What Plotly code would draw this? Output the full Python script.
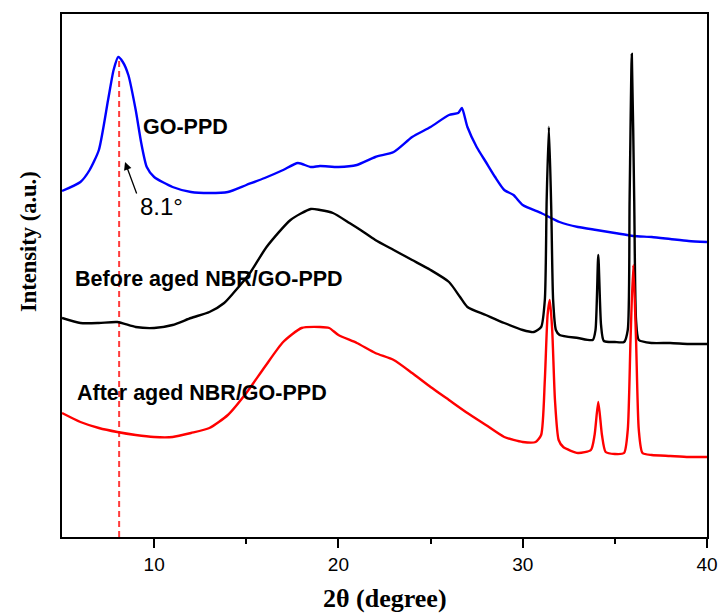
import plotly.graph_objects as go

# GO-PPD
go_x = [5, 6, 6.5, 7, 7.5, 7.8, 8.05, 8.3, 8.6, 9, 9.3, 9.6, 10, 11, 12, 13, 14, 15, 16, 17, 17.8,
        18.5, 19, 20, 21, 22, 23, 24, 25, 26, 26.5, 26.7, 27, 27.5, 28, 28.5, 29, 29.5, 30, 31, 32,
        33, 34, 35, 36, 37, 38, 39, 40]
go_y = [346, 355, 367, 387, 437, 467, 480, 475, 462, 427, 394, 370, 360, 350, 345, 344, 345, 352,
        359, 367, 374, 370, 371, 370, 372, 380, 385, 400, 410, 422, 424, 429, 410, 390, 375, 360,
        347, 342, 332, 324, 315, 310, 307, 304, 301, 300, 298, 296, 295]

# Before aged NBR/GO-PPD
before_x = [5, 6, 7, 8, 9, 10, 11, 12, 13, 13.8, 14.3, 15.2, 16.1, 17.4, 18.5, 19, 19.7, 20.6, 21.2,
            22, 23, 24, 25, 26, 26.6, 27, 28, 29, 30, 30.6, 31.0, 31.2, 31.3, 31.42, 31.55, 31.65,
            31.8, 32, 33, 33.8, 33.95, 34.1, 34.25, 34.4, 35, 35.5, 35.7, 35.8, 35.92, 36.05, 36.15,
            36.3, 37, 38, 39, 40]
before_y = [219, 214, 214, 215, 210, 209, 212, 219, 225, 234, 244, 264, 290, 317, 328, 327, 324, 314,
            307, 297, 287, 277, 267, 255, 240, 230, 222, 214, 207, 205, 210, 237, 337, 410, 327, 237,
            207, 202, 199, 197, 207, 282, 212, 196, 195, 195, 207, 337, 483, 337, 217, 197, 194, 194,
            193, 193]

# After aged NBR/GO-PPD
after_x = [5, 6, 7, 8, 9, 10, 11, 12, 13, 14, 15, 16, 17, 18, 19, 19.5, 20, 21, 22, 23, 24, 25, 26,
           27, 28, 29, 30, 30.7, 31.0, 31.2, 31.35, 31.47, 31.6, 31.75, 31.95, 32.2, 33, 33.7, 33.9,
           34.1, 34.3, 34.5, 35, 35.5, 35.7, 35.85, 36.0, 36.15, 36.3, 36.5, 37, 38, 39, 40]
after_y = [124, 115, 109, 105, 102, 100, 100, 104, 109, 122, 144, 170, 195, 209, 210, 209, 202, 194,
           184, 177, 164, 150, 137, 124, 112, 100, 95, 95, 102, 157, 222, 237, 207, 137, 97, 90, 84,
           87, 102, 135, 102, 85, 83, 84, 107, 197, 272, 197, 107, 84, 82, 81, 80, 80]

peak_pos = 8.1
tick_vals = [10, 20, 30, 40]

fig = go.Figure()
fig.add_trace(go.Scatter(x=[peak_pos, peak_pos], y=[0, 476], mode="lines",
                         line=dict(color="#ff3b3b", width=2, dash="6px,4px"), showlegend=False))
for xs, ys, col in [(go_x, go_y, "#0000ff"), (before_x, before_y, "#000000"), (after_x, after_y, "#ff0000")]:
    fig.add_trace(go.Scatter(x=xs, y=ys, mode="lines",
                             line=dict(color=col, width=2.4, shape="spline", smoothing=0.6),
                             showlegend=False))

bold = dict(family="Liberation Sans", size=21.5, color="black")
fig.add_annotation(x=11.68, y=410, text="<b>GO-PPD</b>", showarrow=False, font=bold)
fig.add_annotation(x=12.99, y=258, text="<b>Before aged NBR/GO-PPD</b>", showarrow=False, font=bold)
fig.add_annotation(x=12.61, y=144, text="<b>After aged NBR/GO-PPD</b>", showarrow=False, font=bold)
fig.add_annotation(x=10.38, y=331, text="8.1°", showarrow=False,
                   font=dict(family="Liberation Sans", size=24, color="black"))
fig.add_annotation(x=8.42, y=375, ax=9.08, ay=342, axref="x", ayref="y", xref="x", yref="y",
                   text="", showarrow=True, arrowhead=2, arrowsize=1.2, arrowwidth=1.3,
                   arrowcolor="black")

# axis titles placed in paper coordinates (pixel positions converted)
pw, ph = 721 - 62 - 14, 614 - 14 - 77
fig.add_annotation(x=(385 - 62) / pw, y=(537 - 598) / ph, xref="paper", yref="paper",
                   xanchor="center", yanchor="middle", text="<b>2θ (degree)</b>", showarrow=False,
                   font=dict(family="Liberation Serif", size=26, color="black"))
fig.add_annotation(x=(28 - 62) / pw, y=(537 - 242) / ph, xref="paper", yref="paper",
                   xanchor="center", yanchor="middle", text="<b>Intensity (a.u.)</b>",
                   showarrow=False, textangle=-90,
                   font=dict(family="Liberation Serif", size=22.5, color="black"))

fig.update_layout(
    width=721, height=614,
    margin=dict(l=62, r=14, t=14, b=77),
    paper_bgcolor="white", plot_bgcolor="white",
    xaxis=dict(range=[5, 40], tickvals=tick_vals, ticks="outside", ticklen=9, tickwidth=1.5,
               tickcolor="black", showline=True, linecolor="black", linewidth=2, mirror=True,
               showgrid=False, zeroline=False, automargin=False,
               minor=dict(tickvals=[15, 25, 35], ticks="outside", ticklen=5, tickwidth=1.5,
                          tickcolor="black"),
               tickfont=dict(family="Liberation Sans", size=19, color="black")),
    yaxis=dict(range=[0, 523], showticklabels=False, ticks="", showline=True, linecolor="black",
               linewidth=2, mirror=True, showgrid=False, zeroline=False, automargin=False),
)

fig.write_html("out.html")
